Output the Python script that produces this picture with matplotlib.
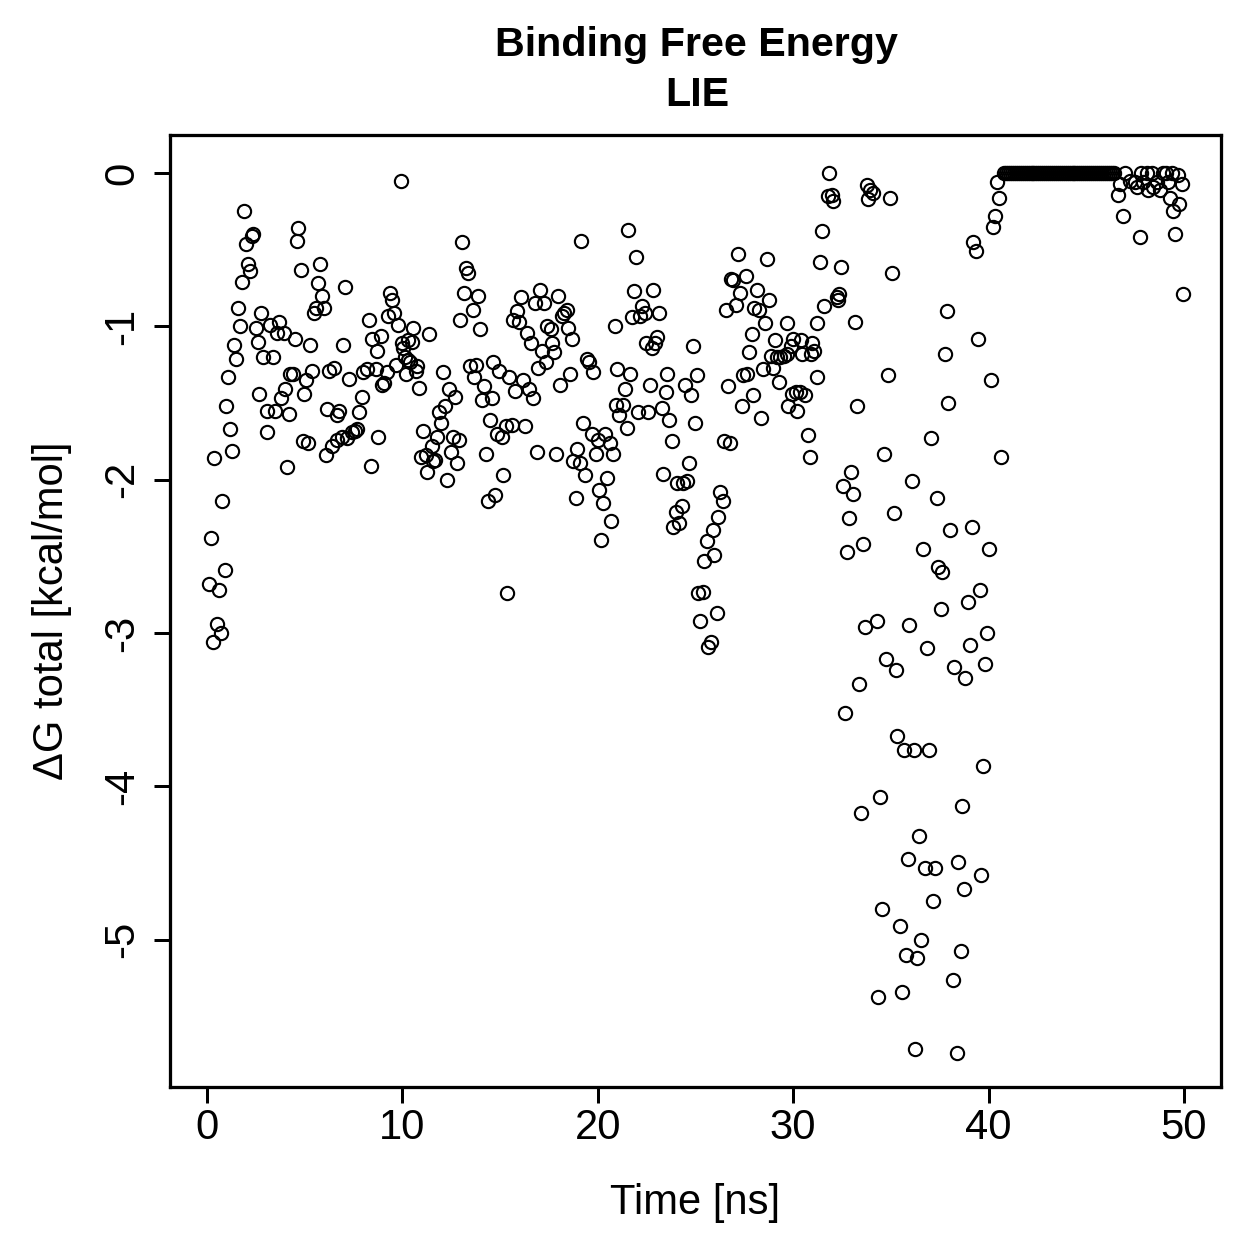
import matplotlib
matplotlib.use("Agg")
import matplotlib.pyplot as plt

plt.rcParams['font.family'] = ['Liberation Sans', 'DejaVu Sans']
plt.rcParams['axes.unicode_minus'] = False

# time [ns] and delta G total [kcal/mol]
time_ns = [
    0.08, 0.19, 0.29, 0.36, 0.50, 0.60, 0.70, 0.77, 0.89, 0.97,
    1.09, 1.18, 1.26, 1.38, 1.48, 1.57, 1.69, 1.78, 1.90, 1.98,
    2.10, 2.20, 2.30, 2.35, 2.49, 2.59, 2.68, 2.76, 2.85, 3.05,
    3.09, 3.22, 3.39, 3.48, 3.60, 3.70, 3.77, 3.93, 3.99, 4.08,
    4.20, 4.25, 4.39, 4.50, 4.59, 4.66, 4.79, 4.90, 4.98, 5.07,
    5.18, 5.27, 5.39, 5.48, 5.58, 5.70, 5.78, 5.90, 5.99, 6.09,
    6.16, 6.26, 6.38, 6.50, 6.64, 6.67, 6.77, 6.89, 6.98, 7.06,
    7.15, 7.28, 7.40, 7.57, 7.69, 7.80, 7.95, 8.00, 8.17, 8.29,
    8.37, 8.46, 8.63, 8.68, 8.77, 8.88, 8.94, 9.03, 9.20, 9.28,
    9.37, 9.48, 9.57, 9.67, 9.79, 9.90, 9.96, 10.05, 10.15, 10.18,
    10.27, 10.30, 10.39, 10.48, 10.56, 10.70, 10.73, 10.86, 10.93, 11.07,
    11.20, 11.27, 11.38, 11.50, 11.58, 11.67, 11.79, 11.89, 11.98, 12.06,
    12.18, 12.27, 12.40, 12.49, 12.61, 12.69, 12.78, 12.91, 12.95, 13.07,
    13.17, 13.25, 13.37, 13.46, 13.60, 13.66, 13.76, 13.89, 13.97, 14.06,
    14.17, 14.28, 14.36, 14.47, 14.56, 14.65, 14.76, 14.83, 14.96, 15.07,
    15.16, 15.30, 15.37, 15.47, 15.59, 15.65, 15.76, 15.88, 15.99, 16.05,
    16.19, 16.27, 16.36, 16.50, 16.56, 16.66, 16.79, 16.87, 16.95, 17.04,
    17.16, 17.25, 17.33, 17.38, 17.58, 17.67, 17.77, 17.86, 17.98, 18.07,
    18.15, 18.27, 18.41, 18.45, 18.58, 18.66, 18.75, 18.86, 18.95, 19.09,
    19.14, 19.26, 19.34, 19.46, 19.55, 19.69, 19.77, 19.89, 20.03, 20.08,
    20.15, 20.25, 20.37, 20.49, 20.62, 20.66, 20.76, 20.87, 20.95, 21.00,
    21.10, 21.27, 21.39, 21.47, 21.56, 21.65, 21.73, 21.87, 21.95, 22.07,
    22.16, 22.27, 22.42, 22.45, 22.58, 22.67, 22.76, 22.84, 22.93, 23.05,
    23.15, 23.26, 23.35, 23.47, 23.56, 23.65, 23.78, 23.86, 24.00, 24.04,
    24.17, 24.29, 24.38, 24.46, 24.58, 24.68, 24.75, 24.85, 24.97, 25.06,
    25.14, 25.25, 25.37, 25.45, 25.57, 25.66, 25.78, 25.88, 25.96, 26.08,
    26.17, 26.25, 26.39, 26.46, 26.56, 26.68, 26.77, 26.84, 26.93, 27.07,
    27.15, 27.28, 27.36, 27.45, 27.56, 27.62, 27.75, 27.87, 27.96, 27.99,
    28.16, 28.27, 28.35, 28.47, 28.56, 28.64, 28.76, 28.89, 28.98, 29.07,
    29.15, 29.27, 29.35, 29.52, 29.66, 29.67, 29.75, 29.87, 29.92, 29.97,
    30.17, 30.20, 30.35, 30.40, 30.46, 30.60, 30.75, 30.87, 30.89, 30.98,
    31.06, 31.20, 31.22, 31.38, 31.45, 31.60, 31.80, 31.85, 31.97, 32.05,
    32.22, 32.31, 32.36, 32.45, 32.57, 32.65, 32.77, 32.87, 32.96, 33.04,
    33.16, 33.25, 33.37, 33.45, 33.56, 33.67, 33.76, 33.84, 33.93, 34.10,
    34.27, 34.36, 34.44, 34.56, 34.65, 34.75, 34.87, 34.95, 35.04, 35.16,
    35.26, 35.34, 35.47, 35.55, 35.67, 35.76, 35.86, 35.94, 36.06, 36.18,
    36.26, 36.35, 36.45, 36.54, 36.66, 36.75, 36.83, 36.97, 37.05, 37.14,
    37.26, 37.34, 37.42, 37.55, 37.64, 37.77, 37.85, 37.94, 38.05, 38.16,
    38.25, 38.37, 38.45, 38.57, 38.65, 38.74, 38.82, 38.96, 39.05, 39.16,
    39.22, 39.36, 39.48, 39.56, 39.64, 39.73, 39.84, 39.94, 40.04, 40.15,
    40.25, 40.33, 40.45, 40.55, 40.66,
    40.8, 40.9, 41.0, 41.1, 41.2, 41.3, 41.4, 41.5, 41.6, 41.7,
    41.8, 41.9, 42.0, 42.1, 42.2, 42.3, 42.4, 42.5, 42.6, 42.7,
    42.8, 42.9, 43.0, 43.1, 43.2, 43.3, 43.4, 43.5, 43.6, 43.7,
    43.8, 43.9, 44.0, 44.1, 44.2, 44.3, 44.4, 44.5, 44.6, 44.7,
    44.8, 44.9, 45.0, 45.1, 45.2, 45.3, 45.4, 45.5, 45.6, 45.7,
    45.8, 45.9, 46.0, 46.1, 46.2, 46.3, 46.4,
    46.64, 46.72, 46.86, 46.98, 47.24, 47.50, 47.58, 47.75, 47.83, 47.92,
    48.09, 48.17, 48.35, 48.43, 48.60, 48.77, 48.94, 49.11, 49.19, 49.28,
    49.37, 49.42, 49.54, 49.71, 49.75, 49.88, 49.93,
]

dg_total = [
    -2.68, -2.38, -3.06, -1.86, -2.94, -2.72, -3.00, -2.14, -2.59, -1.52,
    -1.33, -1.67, -1.81, -1.12, -1.21, -0.88, -1.00, -0.71, -0.25, -0.46,
    -0.59, -0.64, -0.41, -0.40, -1.01, -1.10, -1.44, -0.91, -1.20, -1.69,
    -1.55, -0.99, -1.20, -1.55, -1.04, -0.97, -1.47, -1.04, -1.41, -1.92,
    -1.57, -1.31, -1.31, -1.08, -0.44, -0.36, -0.63, -1.75, -1.44, -1.35,
    -1.76, -1.12, -1.29, -0.91, -0.88, -0.72, -0.59, -0.80, -0.88, -1.84,
    -1.54, -1.29, -1.78, -1.27, -1.74, -1.58, -1.55, -1.72, -1.12, -0.74,
    -1.73, -1.34, -1.69, -1.68, -1.67, -1.56, -1.46, -1.30, -1.28, -0.96,
    -1.91, -1.08, -1.28, -1.16, -1.72, -1.06, -1.38, -1.37, -1.30, -0.93,
    -0.78, -0.83, -0.91, -1.25, -0.99, -0.05, -1.11, -1.14, -1.20, -1.31,
    -1.22, -1.09, -1.23, -1.10, -1.01, -1.29, -1.26, -1.40, -1.85, -1.68,
    -1.84, -1.95, -1.05, -1.78, -1.88, -1.87, -1.72, -1.56, -1.63, -1.30,
    -1.52, -2.00, -1.41, -1.82, -1.72, -1.46, -1.89, -1.74, -0.96, -0.45,
    -0.78, -0.62, -0.65, -1.26, -0.89, -1.33, -1.25, -0.80, -1.02, -1.48,
    -1.39, -1.83, -2.14, -1.61, -1.47, -1.23, -2.10, -1.70, -1.29, -1.72,
    -1.97, -1.65, -2.74, -1.33, -1.64, -0.96, -1.42, -0.90, -0.97, -0.81,
    -1.35, -1.65, -1.04, -1.41, -1.11, -1.47, -0.85, -1.82, -1.27, -0.76,
    -1.16, -0.85, -1.23, -1.00, -1.02, -1.11, -1.17, -1.83, -0.80, -1.38,
    -0.93, -0.91, -0.89, -1.01, -1.31, -1.08, -1.88, -2.12, -1.80, -1.89,
    -0.44, -1.63, -1.97, -1.21, -1.23, -1.70, -1.30, -1.83, -1.74, -2.07,
    -2.39, -2.15, -1.70, -1.99, -1.76, -2.27, -1.83, -1.00, -1.51, -1.28,
    -1.58, -1.51, -1.41, -1.66, -0.37, -1.31, -0.94, -0.77, -0.55, -1.56,
    -0.93, -0.87, -0.91, -1.11, -1.56, -1.38, -1.14, -0.76, -1.11, -1.07,
    -0.91, -1.53, -1.96, -1.43, -1.31, -1.61, -1.75, -2.31, -2.21, -2.02,
    -2.28, -2.17, -2.02, -1.38, -2.01, -1.89, -1.45, -1.13, -1.63, -1.32,
    -2.74, -2.92, -2.73, -2.53, -2.40, -3.09, -3.06, -2.33, -2.49, -2.87,
    -2.24, -2.08, -2.14, -1.75, -0.89, -1.39, -1.76, -0.69, -0.70, -0.86,
    -0.53, -0.78, -1.52, -1.32, -0.67, -1.31, -1.17, -1.05, -1.45, -0.88,
    -0.76, -0.89, -1.60, -1.28, -0.98, -0.56, -0.83, -1.19, -1.27, -1.09,
    -1.20, -1.36, -1.20, -1.19, -1.18, -0.98, -1.52, -1.13, -1.44, -1.08,
    -1.43, -1.55, -1.43, -1.09, -1.18, -1.45, -1.71, -1.85, -1.18, -1.11,
    -1.16, -0.98, -1.33, -0.58, -0.38, -0.87, -0.15, 0.00, -0.14, -0.18,
    -0.81, -0.83, -0.79, -0.61, -2.04, -3.52, -2.47, -2.25, -1.95, -2.09,
    -0.97, -1.52, -3.33, -4.17, -2.42, -2.96, -0.08, -0.17, -0.11, -0.13,
    -2.92, -5.37, -4.07, -4.80, -1.83, -3.17, -1.32, -0.16, -0.65, -2.22,
    -3.24, -3.67, -4.91, -5.34, -3.76, -5.10, -4.47, -2.95, -2.01, -3.76,
    -5.71, -5.12, -4.32, -5.00, -2.45, -4.53, -3.10, -3.76, -1.73, -4.75,
    -4.53, -2.12, -2.57, -2.84, -2.60, -1.18, -0.90, -1.50, -2.33, -5.26,
    -3.22, -5.74, -4.49, -5.07, -4.13, -4.67, -3.29, -2.80, -3.08, -2.31,
    -0.45, -0.51, -1.08, -2.72, -4.58, -3.87, -3.20, -3.00, -2.45, -1.35,
    -0.35, -0.28, -0.06, -0.16, -1.85,
    0.0, 0.0, 0.0, 0.0, 0.0, 0.0, 0.0, 0.0, 0.0, 0.0,
    0.0, 0.0, 0.0, 0.0, 0.0, 0.0, 0.0, 0.0, 0.0, 0.0,
    0.0, 0.0, 0.0, 0.0, 0.0, 0.0, 0.0, 0.0, 0.0, 0.0,
    0.0, 0.0, 0.0, 0.0, 0.0, 0.0, 0.0, 0.0, 0.0, 0.0,
    0.0, 0.0, 0.0, 0.0, 0.0, 0.0, 0.0, 0.0, 0.0, 0.0,
    0.0, 0.0, 0.0, 0.0, 0.0, 0.0, 0.0,
    -0.14, -0.07, -0.28, 0.00, -0.05, -0.06, -0.09, -0.42, 0.00, -0.06,
    0.00, -0.11, 0.00, -0.09, -0.06, -0.11, 0.00, 0.00, -0.06, -0.16,
    0.00, -0.25, -0.40, -0.01, -0.20, -0.07, -0.79,
]

x_ticks = [0, 10, 20, 30, 40, 50]
y_ticks = [0, -1, -2, -3, -4, -5]

W = 1259
fig = plt.figure(figsize=(W / 180, W / 180), dpi=180)
ax = fig.add_axes([170 / W, 1 - 1087 / W, (1221 - 170) / W, (1087 - 135) / W])

ax.plot(time_ns, dg_total, 'o', markerfacecolor='none', markeredgecolor='black',
        markersize=5.3, markeredgewidth=0.85, linestyle='none')

ax.set_xlim(-1.9, 51.9)
ax.set_ylim(-5.96, 0.248)
ax.set_xticks(x_ticks)
ax.set_yticks(y_ticks)
ax.set_xticklabels([str(v) for v in x_ticks])
ax.set_yticklabels([str(v) for v in y_ticks], rotation=90, va='center')
ax.tick_params(direction='out', length=6.5, width=1.2, labelsize=16.7)
ax.tick_params(axis='x', pad=2)
ax.tick_params(axis='y', pad=4.5)

for s in ax.spines.values():
    s.set_linewidth(1.3)

# R-like axis labels and two-line title
fig.text(695 / W, 1 - 1203 / W, 'Time [ns]', ha='center', va='center', fontsize=16.7)
fig.text(52 / W, 1 - 611 / W, 'ΔG total [kcal/mol]', ha='center', va='center',
         rotation=90, fontsize=16.7)
fig.text(697 / W, 1 - 45 / W, 'Binding Free Energy', ha='center', va='center',
         fontsize=16.5, fontweight='bold')
fig.text(697 / W, 1 - 95 / W, 'LIE', ha='center', va='center',
         fontsize=16.5, fontweight='bold')

fig.savefig('out.png', dpi=180)
